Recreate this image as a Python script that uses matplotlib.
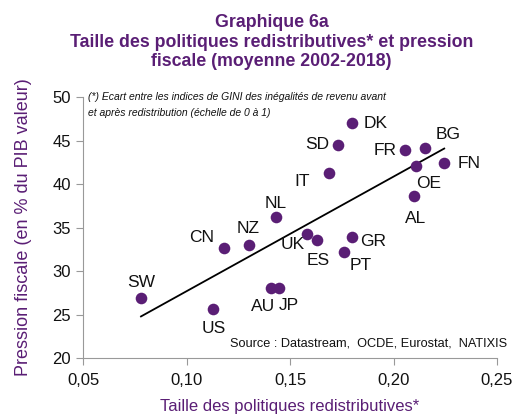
import numpy as np
import matplotlib
matplotlib.use("Agg")
import matplotlib.pyplot as plt
from matplotlib.ticker import FixedLocator, FuncFormatter

plt.rcParams['font.family'] = ['Liberation Sans', 'DejaVu Sans']

countries = ["DK", "SD", "FR", "BG", "IT", "OE", "FN", "AL", "NL", "CN", "NZ",
             "UK", "ES", "GR", "PT", "SW", "AU", "JP", "US"]
redistrib = [0.180, 0.173, 0.2055, 0.215, 0.169, 0.211, 0.2245, 0.210, 0.143, 0.118, 0.130,
             0.158, 0.163, 0.180, 0.176, 0.078, 0.141, 0.1445, 0.113]
pression = [47.0, 44.5, 43.9, 44.1, 41.3, 42.1, 42.4, 38.6, 36.2, 32.6, 33.0,
            34.3, 33.6, 33.9, 32.2, 26.9, 28.0, 28.0, 25.6]
# label offsets in points
offsets = {"DK": (8, 0, 'left', 'center'), "SD": (-6, 0, 'right', 'center'),
           "FR": (-6, 0, 'right', 'center'), "BG": (8, 10, 'left', 'center'),
           "IT": (-14, -6, 'right', 'center'), "OE": (0, -13, 'left', 'center'),
           "FN": (10, 0, 'left', 'center'), "AL": (1, -16, 'center', 'center'),
           "NL": (0, 10, 'center', 'center'), "CN": (-7, 8, 'right', 'center'),
           "NZ": (0, 12, 'center', 'center'), "UK": (-1, -8, 'right', 'center'),
           "ES": (1, -15, 'center', 'center'), "GR": (6, -3, 'left', 'center'),
           "PT": (4, -10, 'left', 'center'), "SW": (0, 11, 'center', 'center'),
           "AU": (-6, -13, 'center', 'center'), "JP": (7, -12, 'center', 'center'),
           "US": (0, -14, 'center', 'center')}

purple = "#5a1e75"
fig = plt.figure(figsize=(5.19, 4.16), dpi=100)
ax = fig.add_axes([0.16, 0.1394, 0.7976, 0.6274])

x = np.array(redistrib)
y = np.array(pression)
ax.scatter(x, y, s=70, color=purple, zorder=3, linewidths=0)
a, b = np.polyfit(x, y, 1)
xl = np.array([x.min(), x.max()])
ax.plot(xl, a * xl + b, color='black', lw=1.3, zorder=2)

for c, xi, yi in zip(countries, redistrib, pression):
    dx, dy, ha, va = offsets[c]
    ax.annotate(c, (xi, yi), xytext=(dx, dy), textcoords='offset points',
                ha=ha, va=va, fontsize=12.5, color='#111111')

ax.set_xlim(0.05, 0.25)
ax.set_ylim(20, 50)
ax.xaxis.set_major_locator(FixedLocator([0.05, 0.10, 0.15, 0.20, 0.25]))
ax.yaxis.set_major_locator(FixedLocator([20, 25, 30, 35, 40, 45, 50]))
ax.xaxis.set_major_formatter(FuncFormatter(lambda v, p: f"{v:.2f}".replace('.', ',')))
ax.yaxis.set_major_formatter(FuncFormatter(lambda v, p: f"{v:.0f}"))
for s in ['top', 'right']:
    ax.spines[s].set_visible(False)
for s in ['left', 'bottom']:
    ax.spines[s].set_color('#999999')
ax.tick_params(axis='both', colors='#999999', labelcolor='#111111', labelsize=12, length=5)
ax.tick_params(axis='x', pad=6)

ax.set_xlabel("Taille des politiques redistributives*", color=purple, fontsize=12, labelpad=8)
ax.set_ylabel("Pression fiscale (en % du PIB valeur)", color=purple, fontsize=13, labelpad=15)

fig.text(0.523, 0.947, "Graphique 6a", ha='center', va='center', fontsize=12.8,
         fontweight='bold', color=purple)
fig.text(0.523, 0.899, "Taille des politiques redistributives* et pression", ha='center',
         va='center', fontsize=12.8, fontweight='bold', color=purple)
fig.text(0.523, 0.851, "fiscale (moyenne 2002-2018)", ha='center', va='center',
         fontsize=12.8, fontweight='bold', color=purple)

ax.text(0.012, 1.0, "(*) Ecart entre les indices de GINI des inégalités de revenu avant",
        transform=ax.transAxes, ha='left', va='center', fontsize=7.5, style='italic',
        color='#111111')
ax.text(0.012, 0.939, "et après redistribution (échelle de 0 à 1)",
        transform=ax.transAxes, ha='left', va='center', fontsize=7.5, style='italic',
        color='#111111')
ax.text(1.024, 0.057, "Source : Datastream,  OCDE, Eurostat,  NATIXIS", transform=ax.transAxes,
        ha='right', va='center', fontsize=9.2, color='#111111')

fig.savefig("out.png", dpi=100)
